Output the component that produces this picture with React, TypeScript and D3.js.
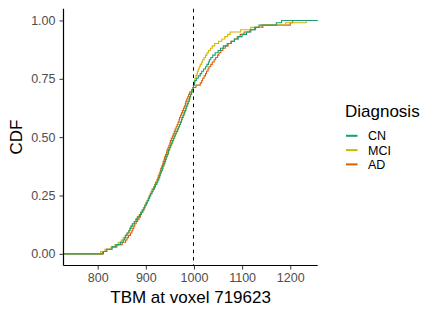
import * as d3 from 'd3'
import { useRef, useEffect } from 'react'

// TBM values per diagnosis group
const cnValues = [
  812, 819, 830, 838, 847, 853, 856, 858, 861, 865, 867, 869, 872, 876, 880, 883, 887, 890, 893, 896,
  898, 901, 903, 906, 908, 910, 913, 915, 918, 920, 923, 925, 927, 929, 930, 932, 934, 935, 937, 939,
  941, 942, 944, 946, 947, 949, 951, 953, 955, 957, 959, 961, 963, 966, 968, 970, 972, 974, 975, 977,
  979, 981, 983, 984, 986, 988, 990, 991, 993, 995, 996, 998, 999, 1001, 1002, 1005, 1009, 1013, 1016, 1020,
  1024, 1027, 1030, 1032, 1035, 1039, 1044, 1050, 1055, 1061, 1069, 1077, 1084, 1092, 1100, 1109, 1118, 1126, 1135, 1171, 1182,
]
const mciValues = [
  806, 815, 828, 836, 843, 849, 853, 857, 861, 864, 867, 870, 873, 876, 879, 882, 886, 889, 892, 895,
  898, 900, 903, 905, 907, 910, 912, 914, 917, 919, 922, 924, 926, 928, 930, 932, 934, 936, 938, 940,
  941, 943, 945, 947, 948, 950, 952, 954, 956, 958, 960, 962, 964, 966, 968, 970, 972, 974, 976, 978,
  980, 981, 983, 985, 987, 988, 990, 992, 993, 995, 996, 997, 999, 1000, 1001, 1002, 1004, 1006, 1007, 1009,
  1011, 1013, 1016, 1018, 1021, 1024, 1027, 1030, 1034, 1038, 1043, 1051, 1058, 1064, 1070, 1075, 1097, 1118, 1140, 1190, 1233,
]
const adValues = [
  810, 818, 829, 840, 851, 858, 861, 864, 868, 871, 873, 875, 877, 880, 883, 886, 889, 891, 894, 896,
  898, 900, 903, 905, 907, 909, 911, 913, 916, 918, 920, 923, 925, 926, 928, 930, 931, 933, 935, 936,
  938, 939, 941, 943, 944, 946, 948, 950, 951, 953, 955, 957, 959, 961, 963, 965, 967, 969, 970, 972,
  974, 976, 978, 980, 982, 983, 985, 987, 989, 991, 995, 998, 1004, 1013, 1016, 1018, 1021, 1024, 1026, 1029,
  1031, 1035, 1038, 1042, 1045, 1049, 1052, 1056, 1060, 1065, 1071, 1077, 1084, 1090, 1096, 1104, 1116, 1128, 1143, 1200, 1205,
]

const groups = ['CN', 'MCI', 'AD']
const groupColors = ['#1B9E77', '#D6B20A', '#D95F02']
const xLimits = [729, 1257]
const xTicks = [800, 900, 1000, 1100, 1200]
const yTicks = [0, 0.25, 0.5, 0.75, 1]
const cutoff = 1000

export default function App() {
  const svgRef = useRef(null)
  useEffect(() => {
    const width = 440
    const height = 315
    const panel = { left: 63.5, right: 317.7, top: 8.8, bottom: 265.5 }
    const font = 'Liberation Sans, Arial, Helvetica, sans-serif'

    const svg = d3.select(svgRef.current)
    svg.selectAll('*').remove()
    svg.attr('width', width).attr('height', height)
      .style('position', 'absolute').style('left', 0).style('top', 0)
      .style('background', '#fff')

    const series = [cnValues, mciValues, adValues]

    const xScale = d3.scaleLinear().domain(xLimits).range([panel.left, panel.right])
    const yScale = d3.scaleLinear().domain([-0.05, 1.05]).range([panel.bottom, panel.top])

    // ecdf steps, padded to the panel edges like stat_ecdf
    const ecdf = (vals) => {
      const s = vals.slice().sort((a, b) => a - b)
      const n = s.length
      const pts = [[xLimits[0], 0]]
      s.forEach((v, i) => pts.push([v, (i + 1) / n]))
      pts.push([xLimits[1], 1])
      return pts
    }
    const line = d3.line()
      .x(d => xScale(d[0]))
      .y(d => yScale(d[1]))
      .curve(d3.curveStepAfter)

    const g = svg.append('g')
    // draw AD, MCI, then CN on top
    ;[2, 1, 0].forEach(i => {
      g.append('path')
        .attr('d', line(ecdf(series[i])))
        .attr('fill', 'none')
        .attr('stroke', groupColors[i])
        .attr('stroke-width', 1.1)
    })

    const cx = Math.floor(xScale(cutoff)) + 0.5
    g.append('line')
      .attr('x1', cx).attr('x2', cx)
      .attr('y1', panel.top).attr('y2', panel.bottom)
      .attr('stroke', '#000').attr('stroke-width', 1)
      .attr('stroke-dasharray', '3.5,3.8')

    const xAxis = d3.axisBottom(xScale).tickValues(xTicks).tickFormat(d3.format('d')).tickSize(4).tickPadding(4)
    const yAxis = d3.axisLeft(yScale).tickValues(yTicks).tickFormat(d3.format('.2f')).tickSize(4).tickPadding(4)

    const xg = svg.append('g').attr('transform', `translate(0, ${panel.bottom})`).call(xAxis)
    const yg = svg.append('g').attr('transform', `translate(${panel.left}, 0)`).call(yAxis)
    ;[xg, yg].forEach(ax => {
      ax.select('.domain').attr('stroke', '#000').attr('stroke-width', 1.2)
      ax.selectAll('.tick line').attr('stroke', '#333').attr('stroke-width', 1)
      ax.selectAll('.tick text')
        .attr('fill', '#4D4D4D')
        .style('font-family', font)
        .style('font-size', '12.5px')
    })
    xg.select('.domain').attr('d', `M${panel.left},0H${panel.right}`)
    yg.select('.domain').attr('d', `M0,${panel.bottom}V${panel.top}`)

    svg.append('text')
      .text('TBM at voxel 719623')
      .attr('x', (panel.left + panel.right) / 2)
      .attr('y', 303.3)
      .attr('text-anchor', 'middle')
      .style('font-family', font).style('font-size', '17px')

    svg.append('text')
      .text('CDF')
      .attr('transform', `translate(21.5, ${(panel.top + panel.bottom) / 2}) rotate(-90)`)
      .attr('text-anchor', 'middle')
      .style('font-family', font).style('font-size', '17px')

    const legend = svg.append('g').attr('transform', 'translate(345, 0)')
    legend.append('text')
      .text('Diagnosis')
      .attr('x', 0).attr('y', 116.7)
      .style('font-family', font).style('font-size', '17px')
    groups.forEach((name, i) => {
      const cy = 135.8 + i * 14.3
      legend.append('line')
        .attr('x1', 1).attr('x2', 12.5)
        .attr('y1', cy).attr('y2', cy)
        .attr('stroke', groupColors[i]).attr('stroke-width', 2)
      legend.append('text')
        .text(name)
        .attr('x', 23).attr('y', cy + 4.5)
        .style('font-family', font).style('font-size', '12.5px')
    })
  }, [])
  return <svg ref={svgRef}></svg>
}
